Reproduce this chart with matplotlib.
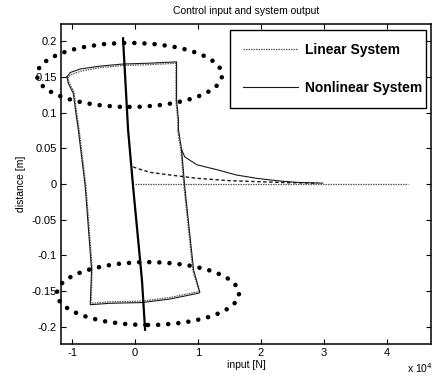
import matplotlib
matplotlib.use("Agg")
import matplotlib.pyplot as plt
import numpy as np
from matplotlib.patches import Ellipse
from matplotlib.ticker import FuncFormatter, FixedLocator

plt.rcParams["font.family"] = ["Liberation Sans", "DejaVu Sans"]

# Hysteresis loop of the nonlinear system: input [N] vs distance [m]
nonlinear_loop_u = [-10800, -10300, -8700, -5600, -1900, 1900, 6600, 6600, 6600,
                    6900, 6900, 7400, 7900, 9300, 10300, 10000, 5600, 1100,
                    -4000, -7100, -6900, -7900, -9000, -9300, -9800, -10600, -10800]
nonlinear_loop_y = [0.150, 0.156, 0.161, 0.165, 0.168, 0.169, 0.171, 0.145, 0.118,
                    0.090, 0.076, 0.048, -0.004, -0.120, -0.152, -0.153, -0.161, -0.166,
                    -0.167, -0.169, -0.120, -0.004, 0.076, 0.094, 0.127, 0.141, 0.150]

# Linear system loop (runs almost on top of the nonlinear one)
linear_loop_u = [-10700, -10200, -8600, -5500, -1800, 2000, 6500, 6500, 6500,
                 6800, 6800, 7300, 7800, 9200, 10200, 9900, 5500, 1000,
                 -4100, -7000, -6800, -7800, -8900, -9200, -9700, -10500, -10700]
linear_loop_y = [0.148, 0.153, 0.158, 0.163, 0.166, 0.167, 0.169, 0.143, 0.116,
                 0.088, 0.074, 0.046, -0.006, -0.122, -0.150, -0.151, -0.159, -0.164,
                 -0.165, -0.167, -0.118, -0.002, 0.078, 0.096, 0.129, 0.143, 0.148]

# Decay towards the set point after the input is released
nonlinear_tail_u = [7400, 7900, 9800, 13000, 16100, 19300, 22500, 25700, 29800]
nonlinear_tail_y = [0.048, 0.038, 0.027, 0.020, 0.0126, 0.008, 0.0046, 0.0023, 0.0012]

linear_tail_u = [-300, 300, 2400, 5600, 9800, 15100, 20400, 24600, 29000]
linear_tail_y = [0.024, 0.022, 0.0163, 0.0126, 0.008, 0.0046, 0.003, 0.0018, 0.001]

# Steady state line
rest_u = [0, 43300]
rest_y = [0.0, 0.0]

# Initial excursion through the origin
center_u = [-1900, -1100, -300, 1100, 1600]
center_y = [0.204, 0.076, -0.004, -0.134, -0.204]

x_ticks = [-10000, 0, 10000, 20000, 30000, 40000]
y_ticks = [-0.2, -0.15, -0.1, -0.05, 0, 0.05, 0.1, 0.15, 0.2]
y_tick_labels = ["-0.2", "-0.15", "-0.1", "-0.05", "0", "0.05", "0.1", "0.15", "0.2"]

fig = plt.figure(figsize=(4.38, 3.85), dpi=100)
ax = fig.add_axes([61 / 438, 1 - 344 / 385, 370 / 438, 320 / 385])

line_col = "#1a1a1a"
lin_style = dict(color="#555555", lw=0.9, ls=(0, (1.2, 0.8)))
nl_style = dict(color=line_col, lw=0.8, ls="-")

ax.plot(linear_loop_u, linear_loop_y, label="Linear System", **lin_style)
ax.plot(nonlinear_loop_u, nonlinear_loop_y, label="Nonlinear System", **nl_style)
ax.plot(linear_tail_u, linear_tail_y, color=line_col, lw=1.0, ls=(0, (2.5, 1.8)))
ax.plot(nonlinear_tail_u, nonlinear_tail_y, **nl_style)
ax.plot(rest_u, rest_y, **lin_style)
ax.plot(center_u, center_y, color="black", lw=1.6)

# Highlighted regions (dotted ellipses)
for cx, cy, w, h in [(-870, 0.1527, 29400, 0.0896), (2060, -0.1534, 28900, 0.088)]:
    e = Ellipse((cx, cy), w, h, fill=False, edgecolor="black", lw=3.3,
                ls=(0, (0.01, 2.2)), capstyle="round", clip_on=False, zorder=5)
    ax.add_patch(e)

ax.set_xlim(-11750, 47000)
ax.set_ylim(-0.224, 0.224)
ax.xaxis.set_major_locator(FixedLocator(x_ticks))
ax.xaxis.set_major_formatter(FuncFormatter(lambda v, p: f"{v / 1e4:g}"))
ax.set_yticks(y_ticks)
ax.set_yticklabels(y_tick_labels)

ax.tick_params(direction="in", length=3.5, width=0.8, labelsize=8,
               top=True, right=True, pad=3)
for s in ax.spines.values():
    s.set_linewidth(1.1)
    s.set_color("black")

ax.set_title("Control input and system output", fontsize=7.5, pad=7)
ax.set_xlabel("input [N]", fontsize=7.5, labelpad=1)
ax.set_ylabel("distance [m]", fontsize=7.5, labelpad=4)
fig.text(420 / 438, 1 - 368 / 385, r"x 10$^4$", fontsize=7.5, ha="center", va="center")

leg = ax.legend(loc="upper left", bbox_to_anchor=(0.457, 0.98, 0.53, 0.0),
                mode="expand", borderaxespad=0, fancybox=False, frameon=True,
                prop=dict(weight="bold", size=10), handlelength=4.0,
                handletextpad=0.5, labelspacing=1.75, borderpad=0.9)
leg.get_frame().set_edgecolor("black")
leg.get_frame().set_linewidth(1.0)
leg.get_frame().set_alpha(1)

fig.savefig("out.png", dpi=100)
